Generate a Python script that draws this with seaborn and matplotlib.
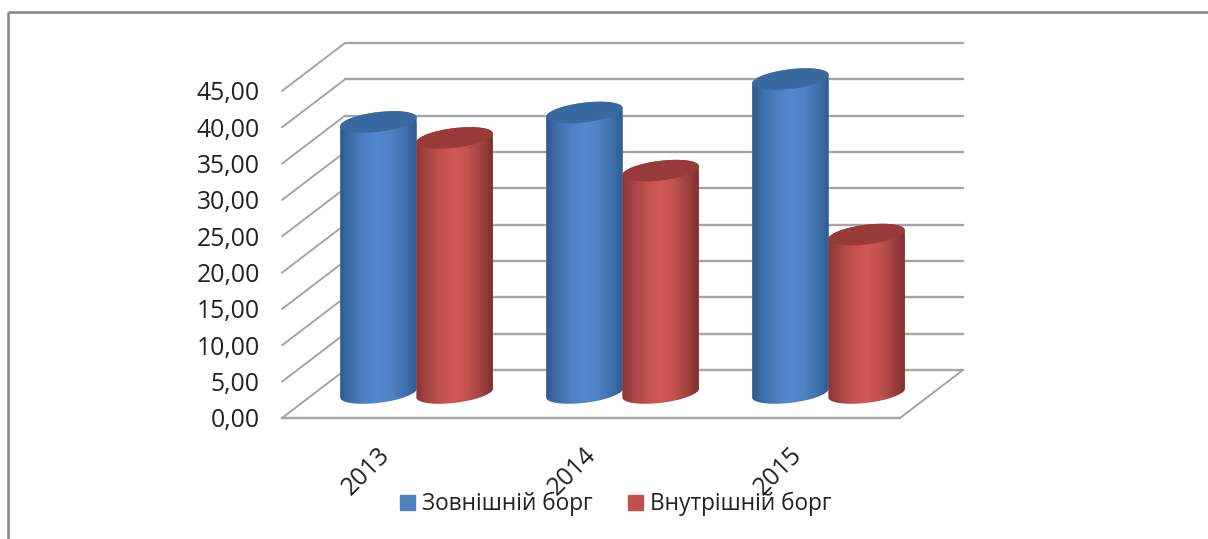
import numpy as np
import pandas as pd
import matplotlib
matplotlib.use("Agg")
import matplotlib.pyplot as plt
import seaborn as sns
from matplotlib.colors import LinearSegmentedColormap
from matplotlib.lines import Line2D
from matplotlib.patches import ConnectionPatch, Ellipse, Patch
from matplotlib.path import Path
from matplotlib.transforms import IdentityTransform, ScaledTranslation

# Debt shares by year
years = ["2013", "2014", "2015"]
external_debt = [37.3, 38.6, 43.2]
internal_debt = [35.1, 30.6, 21.8]
series_names = ["Зовнішній борг", "Внутрішній борг"]
y_ticks = list(range(0, 50, 5))
y_tick_labels = ["0,00", "5,00", "10,00", "15,00", "20,00", "25,00", "30,00", "35,00", "40,00", "45,00"]

sns.set_theme(style="white")
plt.rcParams["font.family"] = ["Open Sans", "DejaVu Sans"]

W, H = 1208, 539
DPI = 100
GRID = "#a4a4a4"
TEXT = "#222222"
TICK_PT = 17.8
LEGEND_PT = 16.3
FILL = {series_names[0]: "#4f81bd", series_names[1]: "#c0504d"}
TOP = {series_names[0]: "#386a9f", series_names[1]: "#983a38"}
SIDE = {
    series_names[0]: ["#2b5686", "#3f70ab", "#4b80c2", "#5389cf", "#4d82c4", "#3f71ac", "#2d5a8c"],
    series_names[1]: ["#843230", "#a84644", "#c25250", "#cf5957", "#c25250", "#9f4240", "#7a2d2b"],
}


def axes_box(left, right, bottom, top):
    """Axes rectangle given in pixels, y measured from the top of the figure."""
    return [left / W, 1 - bottom / H, (right - left) / W, (bottom - top) / H]


fig = plt.figure(figsize=(W / DPI, H / DPI), dpi=DPI, facecolor="white")

# Three parallel planes of the pseudo-3D box: back wall, front edge, bar plane
ax_back = fig.add_axes(axes_box(345, 963, 370, 43), zorder=0)
ax_front = fig.add_axes(axes_box(282, 900, 418, 91), zorder=1)
ax_bars = fig.add_axes(axes_box(313.5, 931.5, 393, 66), zorder=2)

for ax in (ax_back, ax_front, ax_bars):
    ax.set_xlim(-0.5, 2.5)
    ax.set_ylim(0, 45)
    ax.patch.set_alpha(0)
    sns.despine(ax=ax, left=True, bottom=True)

# Back wall gridlines
ax_back.set_yticks(y_ticks)
ax_back.set_xticks([])
ax_back.tick_params(left=False, labelleft=False)
ax_back.grid(axis="y", color=GRID, lw=1.7)
for line in ax_back.get_ygridlines():
    line.set_clip_on(False)

# Front edge carries the tick labels and the floor line
ax_front.set_yticks(y_ticks, y_tick_labels, fontsize=TICK_PT, color=TEXT)
ax_front.set_xticks(range(len(years)), years, fontsize=TICK_PT, color=TEXT,
                    rotation=45, ha="right", va="top", rotation_mode="anchor")
ax_front.tick_params(axis="y", length=0, pad=16)
ax_front.tick_params(axis="x", length=0, pad=17)
label_shift = ScaledTranslation(-8 / DPI, -1 / DPI, fig.dpi_scale_trans)
for label in ax_front.get_xticklabels():
    label.set_transform(label.get_transform() + label_shift)
ax_front.spines["bottom"].set_visible(True)
ax_front.spines["bottom"].set_color(GRID)
ax_front.spines["bottom"].set_linewidth(1.7)

# Diagonals joining the front edge to the back wall
for value in y_ticks:
    fig.add_artist(ConnectionPatch(
        (0, value), (0, value),
        coordsA=ax_front.get_yaxis_transform(), coordsB=ax_back.get_yaxis_transform(),
        color=GRID, lw=1.4))
fig.add_artist(ConnectionPatch(
    (1, 0), (1, 0),
    coordsA=ax_front.get_yaxis_transform(), coordsB=ax_back.get_yaxis_transform(),
    color=GRID, lw=1.4))

# Bars
table = pd.DataFrame({
    "year": years * 2,
    "share": external_debt + internal_debt,
    "series": [series_names[0]] * len(years) + [series_names[1]] * len(years),
})
sns.barplot(data=table, x="year", y="share", hue="series", palette=FILL,
            width=0.74, gap=0, saturation=1, legend=False, ax=ax_bars)
ax_bars.set_xlim(-0.5, 2.5)
ax_bars.set_ylim(0, 45)
ax_bars.set_xticks([])
ax_bars.set_yticks([])
ax_bars.set_xlabel("")
ax_bars.set_ylabel("")


def ellipse_points(cx, cy, a, b, theta, t):
    return np.column_stack([
        cx + a * np.cos(t) * np.cos(theta) - b * np.sin(t) * np.sin(theta),
        cy + a * np.cos(t) * np.sin(theta) + b * np.sin(t) * np.cos(theta),
    ])


# Turn each flat bar into a shaded cylinder with tilted elliptical caps
TILT = np.deg2rad(7)
CAP_A, CAP_B = 38.5, 9.8
t_right = np.arctan2(-CAP_B * np.sin(TILT), CAP_A * np.cos(TILT))
bars = [p for p in ax_bars.patches if p.get_height() > 0]
bars.sort(key=lambda p: p.get_x())
fig.canvas.draw()
for order, bar in enumerate(bars):
    x0, w, h = bar.get_x(), bar.get_width(), bar.get_height()
    xc = x0 + w / 2
    name = series_names[0] if order % 2 == 0 else series_names[1]
    base = ax_bars.transData.transform((xc, 0))
    top = ax_bars.transData.transform((xc, h))
    lower = ellipse_points(*base, CAP_A, CAP_B, TILT, np.linspace(t_right + np.pi, t_right + 2 * np.pi, 60))
    upper = ellipse_points(*top, CAP_A, CAP_B, TILT, np.linspace(t_right, t_right + np.pi, 60))
    outline = np.vstack([lower, upper, lower[:1]])
    bar.set_clip_path(Path(outline), IdentityTransform())
    side = LinearSegmentedColormap.from_list(name, SIDE[name])
    image = ax_bars.imshow(np.linspace(0, 1, 128)[None, :], cmap=side, aspect="auto",
                           extent=(x0 - 0.01, x0 + w + 0.01, -3, h + 3), zorder=3 + 2 * order)
    # The base cap hangs below the axes box, so the image is clipped to the figure and the outline only
    image.set_clip_box(fig.bbox)
    image.set_clip_path(Path(outline), IdentityTransform())
    cap = Ellipse(top, 2 * CAP_A, 2 * CAP_B, angle=np.rad2deg(TILT), transform=IdentityTransform(),
                  facecolor=TOP[name], edgecolor="none", zorder=4 + 2 * order)
    ax_bars.add_artist(cap)
ax_bars.set_xlim(-0.5, 2.5)
ax_bars.set_ylim(0, 45)

# Legend below the plot
legend = fig.legend(
    handles=[Patch(color=FILL[n], label=n) for n in series_names],
    loc="center", bbox_to_anchor=(616 / W, 1 - 504 / H), ncol=2, frameon=False,
    fontsize=LEGEND_PT, handlelength=0.66, handleheight=0.66, handletextpad=0.3,
    columnspacing=1.57, labelcolor=TEXT)
legend.set_zorder(0)

# Thin border along the top and left of the picture
border = dict(color="#858585", lw=1.8, solid_capstyle="butt")
fig.add_artist(Line2D([8 / W, 1], [1 - 11.5 / H] * 2, **border))
fig.add_artist(Line2D([8 / W] * 2, [0, 1 - 11.5 / H], **border))

fig.savefig("out.png", dpi=DPI)
